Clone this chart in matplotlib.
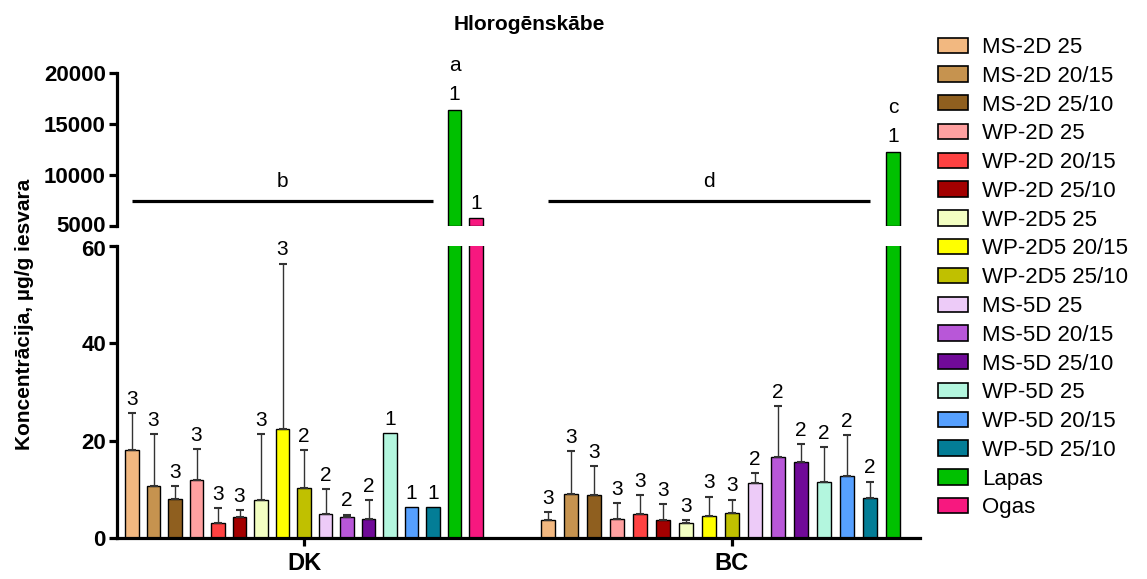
import numpy as np
import matplotlib
matplotlib.use("Agg")
import matplotlib.pyplot as plt
import matplotlib.transforms as mtransforms
from matplotlib.patches import Patch

plt.rcParams['font.family'] = ['Liberation Sans', 'DejaVu Sans']

# series (one per treatment)
series = ["MS-2D 25", "MS-2D 20/15", "MS-2D 25/10",
          "WP-2D 25", "WP-2D 20/15", "WP-2D 25/10",
          "WP-2D5 25", "WP-2D5 20/15", "WP-2D5 25/10",
          "MS-5D 25", "MS-5D 20/15", "MS-5D 25/10",
          "WP-5D 25", "WP-5D 20/15", "WP-5D 25/10",
          "Lapas", "Ogas"]
colors = ["#F2B880", "#C6934F", "#8F5F1F",
          "#FFA0A0", "#FF4242", "#A30000",
          "#F3FFC2", "#FFFF00", "#C0C000",
          "#EDCBF8", "#B857D8", "#700A98",
          "#B3F6DE", "#56A0FF", "#037D96",
          "#00C000", "#F7187F"]

groups = ["DK", "BC"]

dk_mean = [18.0, 10.7, 8.1, 12.0, 3.1, 4.4, 7.8, 22.4, 10.3, 4.9, 4.35, 3.9,
           21.6, 6.3, 6.3, 16400, 5750]
dk_sd = [7.7, 10.6, 2.5, 6.2, 3.0, 1.4, 13.5, 34.0, 7.8, 5.2, 0.45, 3.9,
         0, 0, 0, 0, 0]
dk_n = [3, 3, 3, 3, 3, 3, 3, 3, 2, 2, 2, 2, 1, 1, 1, 1, 1]

bc_mean = [3.6, 9.05, 8.85, 3.95, 4.9, 3.7, 3.1, 4.6, 5.1, 11.4, 16.7, 15.7,
           11.6, 12.8, 8.2, 12300, np.nan]
bc_sd = [1.7, 8.75, 5.95, 3.15, 3.95, 3.2, 0.6, 3.9, 2.8, 1.9, 10.4, 3.6,
         7.1, 8.4, 3.4, 0, np.nan]
bc_n = [3, 3, 3, 3, 3, 3, 3, 3, 3, 2, 2, 2, 2, 2, 2, 1, None]

means = [dk_mean, bc_mean]
sds = [dk_sd, bc_sd]
ns = [dk_n, bc_n]

# letters for Lapas bar and for the bracket over the other treatments
lapas_letter = ["a", "c"]
rest_letter = ["b", "d"]
rest_line_y = 7500

# layout
group_center = [0.0, 19.9]
group_step = [1.0, 1.07]
bar_w = 0.63
W, H = 1147, 579

fig = plt.figure(figsize=(W / 100, H / 100), dpi=100)
left, right = 117 / W, 920 / W
ax_top = fig.add_axes([left, 1 - 226 / H, right - left, (226 - 73) / H])
ax_bot = fig.add_axes([left, 1 - 538 / H, right - left, (538 - 246) / H])

lw_axis = 2.3
for ax in (ax_top, ax_bot):
    ax.set_xlim(-8.7, 28.65)
    for s in ["top", "right"]:
        ax.spines[s].set_visible(False)
    ax.spines["left"].set_linewidth(lw_axis)
    ax.spines["bottom"].set_linewidth(lw_axis)
    ax.tick_params(axis="y", length=6, width=lw_axis, labelsize=16, pad=2)

ax_top.spines["bottom"].set_visible(False)
ax_top.set_xticks([])
ax_top.set_ylim(5000, 20000)
ax_top.set_yticks([5000, 10000, 15000, 20000])
ax_top.set_yticklabels(["5000", "10000", "15000", "20000"], fontweight="bold")

ax_bot.set_ylim(0, 60)
ax_bot.set_yticks([0, 20, 40, 60])
ax_bot.set_yticklabels(["0", "20", "40", "60"], fontweight="bold")

# keep the two labels at the break apart
up = mtransforms.ScaledTranslation(0, 2.5 / 100, fig.dpi_scale_trans)
down = mtransforms.ScaledTranslation(0, -2.5 / 100, fig.dpi_scale_trans)
t0 = ax_top.get_yticklabels()[0]
t0.set_transform(t0.get_transform() + up)
t1 = ax_bot.get_yticklabels()[-1]
t1.set_transform(t1.get_transform() + down)

lab_kw = dict(textcoords="offset points", ha="center", va="bottom", fontsize=15)

for g in range(len(groups)):
    idx = np.arange(len(series))
    x = group_center[g] + (idx - 8) * group_step[g]
    m = np.array(means[g], dtype=float)
    sd = np.array(sds[g], dtype=float)
    ok = ~np.isnan(m)

    ax_bot.bar(x[ok], m[ok], width=bar_w, color=np.array(colors)[ok],
               edgecolor="black", linewidth=1.0, zorder=2)
    big = ok & (m > 5000)
    ax_top.bar(x[big], m[big] - 5000, bottom=5000, width=bar_w,
               color=np.array(colors)[big], edgecolor="black", linewidth=1.0,
               zorder=2)

    small = ok & (m < 60)
    has_err = small & (sd > 0)
    ax_bot.errorbar(x[has_err], m[has_err],
                    yerr=[np.zeros(has_err.sum()), sd[has_err]],
                    fmt="none", ecolor="#333333", elinewidth=1.0,
                    capsize=3, capthick=1.5, zorder=3)

    for i in idx[ok]:
        if m[i] < 60:
            ax_bot.annotate(str(ns[g][i]), (x[i], m[i] + sd[i]),
                            xytext=(0, 3), **lab_kw)
        else:
            ax_top.annotate(str(ns[g][i]), (x[i], m[i]),
                            xytext=(0, 4), **lab_kw)

    # letter above Lapas
    li = series.index("Lapas")
    ax_top.annotate(lapas_letter[g], (x[li], m[li]), xytext=(0, 25), **lab_kw)

    # bracket over first 15 treatments
    ax_top.plot([x[0], x[14]], [rest_line_y, rest_line_y], color="black",
                lw=2.3, solid_capstyle="butt")
    ax_top.annotate(rest_letter[g], ((x[0] + x[14]) / 2, rest_line_y),
                    xytext=(0, 7), **lab_kw)

ax_bot.set_xticks(group_center)
ax_bot.set_xticklabels(groups, fontsize=17, fontweight="bold")
ax_bot.tick_params(axis="x", length=6, width=lw_axis, pad=4)

fig.text(529 / W, 1 - 25 / H, "Hlorogēnskābe", ha="center", va="center",
         fontsize=15, fontweight="bold")
fig.text(25 / W, 1 - 314 / H, "Koncentrācija, µg/g iesvara", rotation=90,
         ha="center", va="center", fontsize=15, fontweight="bold")

handles = [Patch(facecolor=c, edgecolor="black", linewidth=1.2) for c in colors]
fig.legend(handles, series, loc="upper left", bbox_to_anchor=(938 / W, 1 - 37 / H),
           frameon=False, fontsize=16, handlelength=1.35, handleheight=0.68,
           labelspacing=0.35, handletextpad=0.65, borderpad=0, borderaxespad=0)

fig.savefig("out.png", dpi=100)
